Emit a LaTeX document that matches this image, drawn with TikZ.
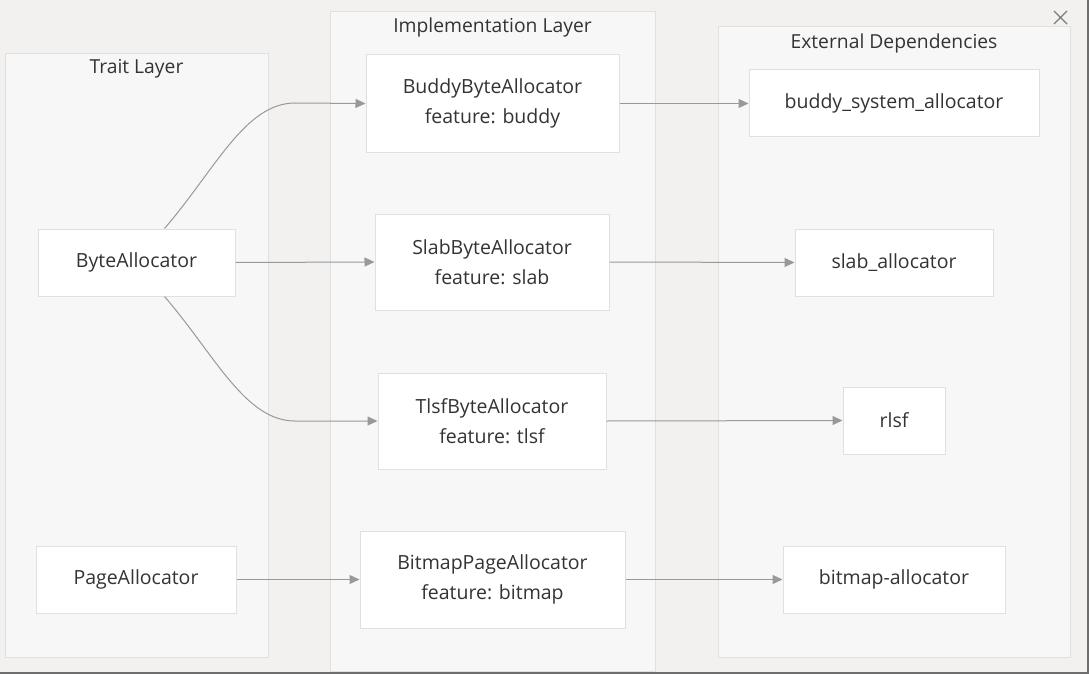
\documentclass[tikz,border=0pt]{standalone}
\usepackage{fontspec}
\setmainfont{Open Sans}
\usetikzlibrary{arrows.meta,calc}
\definecolor{bgc}{HTML}{F2F1EF}
\definecolor{clfill}{HTML}{F7F7F7}
\definecolor{clline}{HTML}{E0E0E0}
\definecolor{txt}{HTML}{333333}
\definecolor{edgec}{HTML}{999999}
\definecolor{frame}{HTML}{6E6E6E}
\tikzset{
  cluster/.style={draw=clline, fill=clfill, line width=1pt},
  clabel/.style={text=txt, font=\fontsize{19.3}{22}\selectfont, anchor=center},
  box/.style={draw=clline, fill=white, line width=1pt, text=txt, font=\fontsize{19.5}{30}\selectfont, align=center, inner sep=0pt, anchor=center},
  conn/.style={draw=edgec, line width=1pt, -{Triangle[length=10pt,width=9pt]}},
}
\begin{document}
\begin{tikzpicture}[x=1pt,y=-1pt]
\useasboundingbox (0,0) rectangle (1089,674);
\fill[bgc] (0,0) rectangle (1089,674);
\draw[frame, line width=2pt] (0,673) -- (1088,673) -- (1088,0);
% close cross
\draw[frame!90, line width=1.2pt] (1054,11) -- (1067,24) (1054,24) -- (1067,11);
% clusters
\draw[cluster] (5,54) rectangle (268,657);
\node[clabel] (tl) at (136.5,69) {Trait Layer};
\draw[cluster] (330,12) rectangle (655,671);
\node[clabel] (il) at (492.5,27) {Implementation Layer};
\draw[cluster] (718,27) rectangle (1070,657);
\node[clabel] (el) at (894,43) {External Dependencies};
% nodes
\node[box, minimum width=197pt, minimum height=67pt] (ba) at (136.5,262.5) {ByteAllocator};
\node[box, minimum width=200pt, minimum height=67pt] (pa) at (136,579.5) {PageAllocator};
\node[box, minimum width=253pt, minimum height=97pt] (bb) at (492.5,103.5) {BuddyByteAllocator\\feature: buddy};
\node[box, minimum width=234pt, minimum height=96pt] (sb) at (492,262) {SlabByteAllocator\\feature: slab};
\node[box, minimum width=228pt, minimum height=96pt] (tb) at (492,421) {TlsfByteAllocator\\feature: tlsf};
\node[box, minimum width=265pt, minimum height=97pt] (bp) at (492.5,579.5) {BitmapPageAllocator\\feature: bitmap};
\node[box, minimum width=290pt, minimum height=67pt] (bs) at (894,103.5) {buddy\_system\_allocator};
\node[box, minimum width=198pt, minimum height=67pt] (sa) at (894,262.5) {slab\_allocator};
\node[box, minimum width=102pt, minimum height=67pt] (rl) at (894,420.5) {rlsf};
\node[box, minimum width=222pt, minimum height=67pt] (bm) at (894,579.5) {bitmap-allocator};
% connectors
\draw[conn] ([xshift=28pt]ba.north) .. controls (215,170) and (245,103) .. (295,103) -- (bb.west);
\draw[conn] ([xshift=28pt]ba.south) .. controls (215,355) and (245,421) .. (295,421) -- (tb.west);
\draw[conn] (ba.east) -- (sb.west);
\draw[conn] (pa.east) -- (bp.west);
\draw[conn] (bb.east) -- (bs.west);
\draw[conn] (sb.east) -- (sa.west);
\draw[conn] (tb.east) -- (rl.west);
\draw[conn] (bp.east) -- (bm.west);
\end{tikzpicture}
\end{document}
